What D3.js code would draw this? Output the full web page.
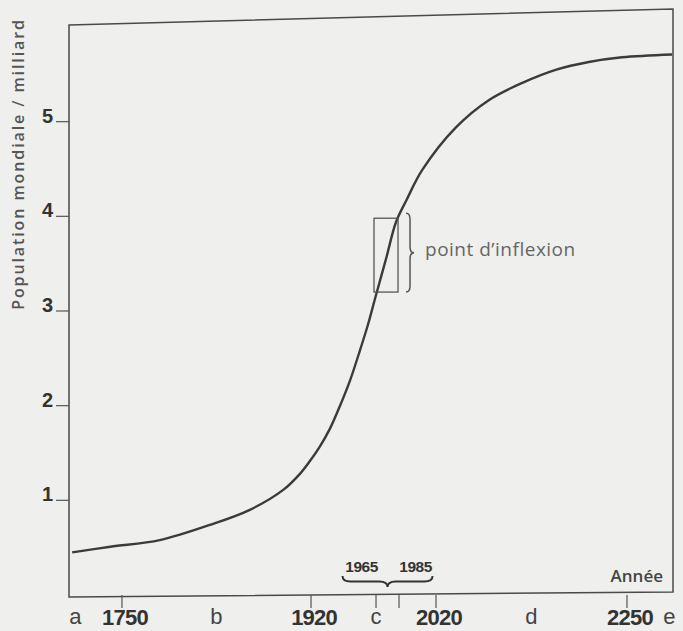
<!DOCTYPE html>
<html>
<head>
<meta charset="utf-8">
<script src="https://cdn.jsdelivr.net/npm/d3@7"></script>
<style>
  html, body { margin: 0; padding: 0; background: #efefed; }
  svg { display: block; }
</style>
</head>
<body>
<svg id="chart" width="683" height="631"></svg>
<script>
// ---- data ----
const years = [1703, 1739, 1784, 1829, 1865, 1895, 1910, 1919, 1926.2, 1933.2, 1940.1, 1947.1, 1954, 1959.5, 1964.3, 1973.7, 1982.4, 1992, 2007, 2044, 2084, 2124, 2165, 2204, 2244, 2299];
const population = [0.45, 0.51, 0.58, 0.74, 0.90, 1.11, 1.28, 1.415, 1.57, 1.76, 2.00, 2.27, 2.59, 2.86, 3.13, 3.55, 3.94, 4.17, 4.49, 4.94, 5.23, 5.41, 5.55, 5.63, 5.68, 5.71];
const yTicks = [1, 2, 3, 4, 5];
const xTickYears = [1750, 1920, 1965, 1985, 2020, 2250];
const xYearLabels = [1750, 1920, 2020, 2250];
const phaseLetters = ["a", "b", "c", "d", "e"];
const phaseYears = [1706, 1835, 1965, 2135, 2296];
const inflexionYears = [1965, 1985];
const inflexionValues = [3.2, 3.98];
const yTitle = "Population mondiale / milliard";
const xTitle = "Année";
const inflexionLabel = "point d\u2019inflexion";

// ---- layout ----
const L = 69, R = 673, T = 27, B = 595;
const W = R - L;
const svg = d3.select("#chart");

// schematic (piecewise) time axis
const knotYears = [1700, 1750, 1920, 1965, 1985, 2020, 2250, 2300];
const knotFrac  = [0, 0.0877, 0.4007, 0.5083, 0.5464, 0.6076, 0.9238, 1];
const x = d3.scaleLinear().domain(knotYears).range(knotFrac.map(f => L + f * W));
const y = d3.scaleLinear().domain([0, 6]).range([B, T]);

const ink = "#3b3b3b";

// frame (slightly skewed like the printed figure)
svg.append("path")
  .attr("d", `M${L},${T - 2} L${R},${T - 18} L${R},${B - 3} L${L},${B + 2} Z`)
  .attr("fill", "none").attr("stroke", "#4a4a4a").attr("stroke-width", 1.5);

// y ticks
const yAxis = svg.append("g");
yAxis.selectAll("line").data(yTicks).join("line")
  .attr("x1", L - 13).attr("x2", L)
  .attr("y1", d => y(d)).attr("y2", d => y(d))
  .attr("stroke", "#555").attr("stroke-width", 1.2);
yAxis.selectAll("text").data(yTicks).join("text")
  .attr("x", L - 16).attr("y", d => y(d) + 1)
  .attr("text-anchor", "end")
  .attr("font-family", "Liberation Sans, Arial, sans-serif")
  .attr("font-weight", "bold").attr("font-size", 20)
  .attr("fill", "#333")
  .text(d => d);

// y title
svg.append("text")
  .attr("transform", `translate(24,${164}) rotate(-90)`)
  .attr("text-anchor", "middle")
  .attr("font-family", "Open Sans, sans-serif")
  .attr("font-weight", 600).attr("font-size", 16)
  .attr("letter-spacing", 1.9)
  .attr("fill", "#555")
  .text(yTitle);

// x ticks
svg.append("g").selectAll("line").data(xTickYears).join("line")
  .attr("x1", d => x(d)).attr("x2", d => x(d))
  .attr("y1", B).attr("y2", B + 13)
  .attr("stroke", "#555").attr("stroke-width", 1.2);

svg.append("g").selectAll("text").data(xYearLabels).join("text")
  .attr("x", d => x(d) + 3).attr("y", 625)
  .attr("text-anchor", "middle")
  .attr("font-family", "Liberation Sans, Arial, sans-serif")
  .attr("font-weight", "bold").attr("font-size", 22)
  .attr("letter-spacing", -0.8)
  .attr("fill", "#333")
  .text(d => d);

svg.append("g").selectAll("text").data(phaseLetters).join("text")
  .attr("x", (d, i) => x(phaseYears[i])).attr("y", 624)
  .attr("text-anchor", "middle")
  .attr("font-family", "Liberation Sans, Arial, sans-serif")
  .attr("font-size", 22)
  .attr("fill", "#444")
  .text(d => d);

// x title
svg.append("text")
  .attr("x", 663).attr("y", 582)
  .attr("text-anchor", "end")
  .attr("font-family", "Open Sans, sans-serif")
  .attr("font-weight", 600).attr("font-size", 17)
  .attr("fill", "#444")
  .text(xTitle);

// curve
const pts = years.map((yr, i) => [x(yr), y(population[i])]);
svg.append("path")
  .attr("d", d3.line().curve(d3.curveCatmullRom.alpha(0.5))(pts))
  .attr("fill", "none").attr("stroke", ink).attr("stroke-width", 2.4);

// inflexion box
const bx0 = x(inflexionYears[0]) - 2, bx1 = x(inflexionYears[1]) - 1;
svg.append("rect")
  .attr("x", bx0).attr("y", y(inflexionValues[1]))
  .attr("width", bx1 - bx0).attr("height", y(inflexionValues[0]) - y(inflexionValues[1]))
  .attr("fill", "none").attr("stroke", "#555").attr("stroke-width", 1.3);

// vertical brace (pointing right)
function vBrace(xx, y1, y2, w) {
  const ym = (y1 + y2) / 2, q = 6;
  return `M${xx},${y1} Q${xx + w / 2},${y1} ${xx + w / 2},${y1 + q} L${xx + w / 2},${ym - q} Q${xx + w / 2},${ym} ${xx + w},${ym} ` +
         `Q${xx + w / 2},${ym} ${xx + w / 2},${ym + q} L${xx + w / 2},${y2 - q} Q${xx + w / 2},${y2} ${xx},${y2}`;
}
svg.append("path")
  .attr("d", vBrace(bx1 + 8, y(inflexionValues[1]) - 5, y(inflexionValues[0]), 8))
  .attr("fill", "none").attr("stroke", "#555").attr("stroke-width", 1.5);

svg.append("text")
  .attr("x", bx1 + 27).attr("y", 256)
  .attr("font-family", "Open Sans, sans-serif")
  .attr("font-size", 19)
  .attr("letter-spacing", 0.5)
  .attr("fill", "#666")
  .text(inflexionLabel);

// horizontal brace under 1965 / 1985 labels (pointing down)
function hBrace(x1, x2, yy, h) {
  const xm = (x1 + x2) / 2, q = 8;
  return `M${x1},${yy} Q${x1},${yy + h / 2} ${x1 + q},${yy + h / 2} L${xm - q},${yy + h / 2} Q${xm},${yy + h / 2} ${xm},${yy + h} ` +
         `Q${xm},${yy + h / 2} ${xm + q},${yy + h / 2} L${x2 - q},${yy + h / 2} Q${x2},${yy + h / 2} ${x2},${yy}`;
}
const bc = (x(inflexionYears[0]) + x(inflexionYears[1])) / 2;
svg.append("path")
  .attr("d", hBrace(bc - 45, bc + 45, 576, 11))
  .attr("fill", "none").attr("stroke", "#333").attr("stroke-width", 2);

svg.append("g").selectAll("text").data(inflexionYears).join("text")
  .attr("x", (d, i) => bc + (i === 0 ? -26 : 28)).attr("y", 572)
  .attr("text-anchor", "middle")
  .attr("font-family", "Liberation Sans, Arial, sans-serif")
  .attr("font-weight", "bold").attr("font-size", 15.5)
  .attr("letter-spacing", -0.5)
  .attr("fill", "#333")
  .text(d => d);
</script>
</body>
</html>
